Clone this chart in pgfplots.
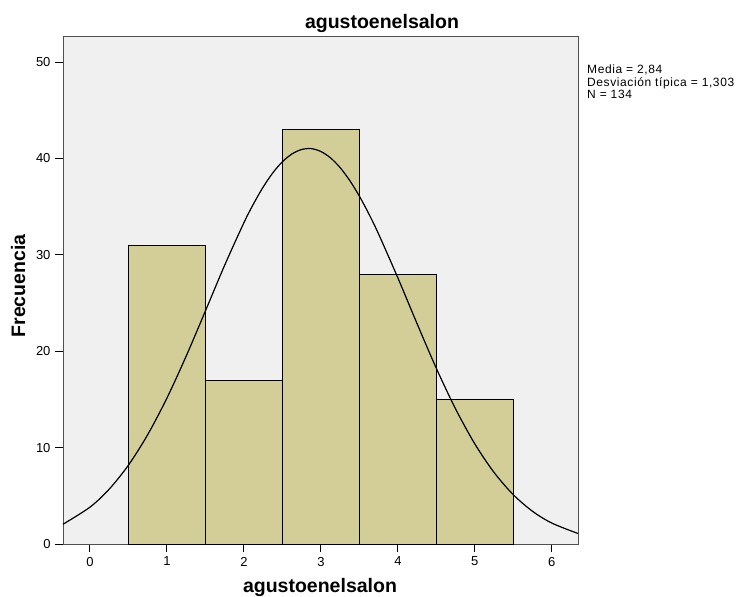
\documentclass[border=0pt]{standalone}
\usepackage{fontspec}
\setmainfont{Liberation Sans}
\newfontfamily\annfont[LetterSpace=5]{Liberation Sans}
\usepackage{pgfplots}
\pgfplotsset{compat=1.18}
\definecolor{bgray}{HTML}{F0F0F0}
\definecolor{barfill}{HTML}{D3CE98}
\definecolor{framec}{HTML}{505050}
\begin{document}
\begin{tikzpicture}
\useasboundingbox (0,0) rectangle (738bp,-597bp);
\begin{axis}[
  at={(63bp,-544bp)}, anchor=south west,
  scale only axis, width=515bp, height=507bp,
  xmin=-0.35, xmax=6.34, ymin=0, ymax=52.6,
  axis background/.style={fill=bgray},
  axis line style={framec, line width=1bp},
  xtick={0,1,2,3,4,5,6}, ytick={0,10,20,30,40,50},
  tick align=outside, tick pos=left,
  major tick length=8bp,
  tick style={black, line width=1bp},
  /pgf/number format/assume math mode=true,
  ticklabel style={font=\fontsize{13bp}{15bp}\selectfont},
  xticklabel style={yshift=-1.5bp},
  yticklabel style={xshift=-1bp},
  clip=false,
]
\addplot[ybar interval, fill=barfill, draw=black, line width=0.9bp]
  coordinates {(0.5,31) (1.5,17) (2.5,43) (3.5,28) (4.5,15) (5.5,15)};
\addplot[black, line width=1.2bp, smooth] coordinates {
(-0.35,2.05) (0,3.82) (0.25,5.69) (0.5,8.18) (0.75,11.34) (1,15.14)
(1.25,19.49) (1.5,24.18) (1.75,28.92) (2,33.33) (2.125,35.29) (2.25,37.03) (2.375,38.50) (2.5,39.66)
(2.625,40.47) (2.75,40.93) (2.875,41.02) (3,40.72) (3.125,40.06) (3.25,39.05) (3.375,37.71) (3.5,36.09) (3.625,34.22) (3.75,32.15)
(4,27.61) (4.25,22.85) (4.5,18.22) (4.75,14.01) (5,10.38) (5.25,7.42)
(5.5,5.11) (5.75,3.39) (6,2.17) (6.34,1.09)};
\end{axis}
\node[anchor=base, inner sep=0pt, font=\fontsize{19.5bp}{22bp}\selectfont\bfseries] at (382bp,-28bp) {agustoenelsalon};
\node[anchor=base, inner sep=0pt, font=\fontsize{19.5bp}{22bp}\selectfont\bfseries] at (320bp,-592bp) {agustoenelsalon};
\node[anchor=base, rotate=90, inner sep=0pt, font=\fontsize{19.5bp}{22bp}\selectfont\bfseries] at (25bp,-286bp) {Frecuencia};
\begin{scope}[every node/.style={anchor=base west, inner sep=0pt, font=\annfont\fontsize{12bp}{14bp}\selectfont}]
\node at (587bp,-73bp) {Media = 2,84};
\node at (587bp,-86bp) {Desviación típica = 1,303};
\node at (587bp,-98bp) {N = 134};
\end{scope}
\end{tikzpicture}
\end{document}
